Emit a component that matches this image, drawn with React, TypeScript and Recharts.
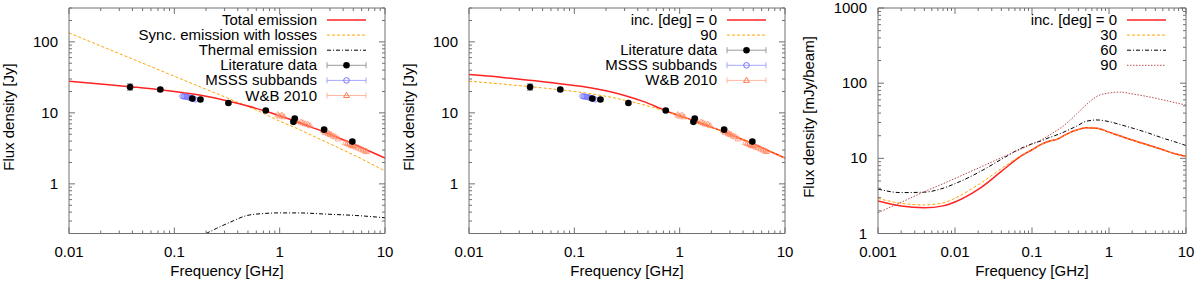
import React from 'react';
import { ComposedChart, Line, Scatter, XAxis, YAxis, ErrorBar } from 'recharts';

const FONT = '"Liberation Sans", Arial, Helvetica, sans-serif';
const AXIS = '#707070';
const RED = '#ff2222';
const ORANGE = '#ffa500';
const BLACK = '#000000';
const BROWN = '#b84a4a';
const BLUE = '#6f6fff';
const SALMON = '#ff7a50';

const W = 400;
const H = 282;
const TOP = 8;
const BOTTOM = 48.5;

// ---- observed data (same in panels 1 and 2) ----
const litFreq = [0.038, 0.0736, 0.148, 0.177, 0.326, 0.738, 1.35, 1.39, 2.64, 4.9];
const litFlux = [23.2, 21.3, 15.9, 15.4, 13.8, 10.8, 7.47, 8.3, 5.8, 3.94];
const litErr = [2.5, 1.2, 0.8, 0.7, 0.6, 0.5, 0.4, 0.4, 0.3, 0.2];

const msssFreq = [0.119, 0.123, 0.127, 0.131, 0.135, 0.139, 0.143, 0.152, 0.158];
const msssFlux = [17.2, 17.0, 16.9, 16.8, 16.6, 16.4, 16.2, 15.8, 15.4];
const msssErr = [0.5, 0.5, 0.5, 0.5, 0.5, 0.5, 0.5, 0.5, 0.5];

const wbFreq = [0.96, 1.0, 1.05, 1.1, 1.4, 1.42, 1.45, 1.6, 1.67, 1.75, 1.85, 1.95, 2.6, 2.7, 2.8, 2.9, 3.0, 3.1, 3.25, 3.4, 3.6, 4.2, 4.4, 4.6, 4.75, 4.85, 4.95, 5.1, 5.3, 5.6, 5.9, 6.2, 6.5, 6.7];
const wbFlux = [9.4, 9.0, 9.3, 8.8, 7.9, 7.6, 8.0, 7.4, 7.2, 7.0, 6.9, 6.6, 5.6, 5.3, 5.5, 5.1, 5.0, 4.9, 4.7, 4.6, 4.3, 3.8, 3.7, 3.6, 3.5, 3.6, 3.4, 3.5, 3.3, 3.2, 3.1, 3.0, 2.9, 2.85];
const wbErr = [0.4, 0.4, 0.4, 0.4, 0.35, 0.35, 0.35, 0.3, 0.3, 0.3, 0.3, 0.3, 0.25, 0.25, 0.25, 0.25, 0.25, 0.25, 0.2, 0.2, 0.2, 0.2, 0.2, 0.2, 0.2, 0.2, 0.2, 0.2, 0.2, 0.15, 0.15, 0.15, 0.15, 0.15];

// ---- panel 1 model curves ----
const totFreq = [0.01, 0.02, 0.04, 0.07, 0.1, 0.15, 0.2, 0.3, 0.5, 0.7, 1, 1.4, 2, 2.8, 4, 6, 8, 10];
const totFlux = [28, 25.6, 23.2, 21.3, 20.0, 18.4, 17.1, 15.1, 12.5, 10.8, 9.1, 7.7, 6.3, 5.2, 4.18, 3.24, 2.68, 2.3];

const syncFreq = [0.01, 0.02, 0.04, 0.1, 0.2, 0.4, 0.65, 1, 1.35, 2, 2.8, 4, 5.8, 8, 10];
const syncFlux = [134, 87.5, 57.5, 32.8, 21.5, 14.1, 10.4, 7.65, 6.35, 4.85, 3.85, 3.0, 2.3, 1.8, 1.52];

const thermFreq = [0.2, 0.25, 0.338, 0.488, 0.7, 1.0, 1.45, 3.0, 5.4, 10];
const thermFlux = [0.2, 0.235, 0.288, 0.358, 0.382, 0.39, 0.39, 0.373, 0.358, 0.333];

// ---- panel 2 model curves ----
const inc0Freq = [0.01, 0.02, 0.04, 0.07, 0.1, 0.15, 0.2, 0.3, 0.45, 0.65, 0.8, 1, 1.4, 2, 2.8, 4, 6, 8, 10];
const inc0Flux = [34.6, 31.8, 28.5, 26.0, 24.3, 22.3, 20.5, 17.6, 14.5, 11.6, 10.2, 9.1, 7.7, 6.3, 5.2, 4.18, 3.24, 2.68, 2.3];

// ---- panel 3 model curves ----
const beamFreq = [0.001, 0.002, 0.004, 0.007, 0.01, 0.02, 0.04, 0.07, 0.1, 0.13, 0.17, 0.21, 0.25, 0.31, 0.38, 0.5, 0.7, 1, 1.4, 2, 3, 5, 7, 10];
const beam0 = [2.7, 2.32, 2.2, 2.33, 2.62, 3.85, 6.7, 10.5, 13.0, 15.2, 17.0, 17.9, 19.6, 22.0, 23.8, 25.6, 25.2, 22.3, 19.8, 17.5, 15.4, 13.0, 11.6, 10.6];
const beam30 = [2.93, 2.52, 2.4, 2.55, 2.95, 4.45, 7.3, 10.7, 13.1, 15.2, 16.9, 17.8, 19.5, 21.9, 23.7, 25.5, 25.1, 22.2, 19.8, 17.5, 15.3, 13.0, 11.6, 10.6];
const beam60 = [3.9, 3.5, 3.55, 4.0, 4.6, 6.45, 9.7, 13.4, 15.6, 17.0, 19.0, 20.5, 22.0, 24.3, 26.8, 31.0, 32.4, 30.8, 28.1, 25.3, 22.3, 18.6, 16.7, 14.8];
const beam90 = [1.89, 2.6, 3.6, 4.6, 5.4, 7.4, 10.2, 13.1, 15.5, 17.5, 20.5, 23.5, 26.5, 32.0, 39.0, 51.0, 67.0, 74.0, 76.0, 72.0, 67.0, 60.0, 55.5, 51.0];

// ---- axes ----
const fluxDomain: [number, number] = [0.2, 300];
const beamDomain: [number, number] = [1, 1000];
const freqDomain: [number, number] = [0.01, 10];
const beamFreqDomain: [number, number] = [0.001, 10];

type Pt = { f: number; s: number; e?: number };
const zip = (f: number[], s: number[], e?: number[]): Pt[] =>
  f.map((v, i) => ({ f: v, s: s[i], e: e ? e[i] : undefined }));

function logTicks([lo, hi]: [number, number]) {
  const out: number[] = [];
  for (let k = Math.floor(Math.log10(lo)); k <= Math.ceil(Math.log10(hi)); k++) {
    for (let m = 1; m <= 9; m++) {
      const v = Number((m * Math.pow(10, k)).toPrecision(6));
      if (v >= lo * 0.999 && v <= hi * 1.001) out.push(v);
    }
  }
  return out;
}

const isDecade = (v: number) => Math.abs(Math.log10(v) - Math.round(Math.log10(v))) < 1e-6;

function makeTick(side: 'bottom' | 'top' | 'left' | 'right') {
  return (p: any) => {
    const { x, y, payload } = p;
    const v = payload.value as number;
    const major = isDecade(v);
    const len = major ? 6 : 3;
    let tl: React.ReactNode = null;
    let label: React.ReactNode = null;
    if (side === 'bottom') {
      tl = <line x1={x} x2={x} y1={y} y2={y - len} stroke={AXIS} />;
      if (major)
        label = (
          <text x={x} y={y + 23} textAnchor="middle" fontSize={15} fontFamily={FONT} fill="#000">
            {String(v)}
          </text>
        );
    } else if (side === 'top') {
      tl = <line x1={x} x2={x} y1={y} y2={y + len} stroke={AXIS} />;
    } else if (side === 'left') {
      tl = <line x1={x} x2={x + len} y1={y} y2={y} stroke={AXIS} />;
      if (major)
        label = (
          <text x={x - 11} y={y + 5} textAnchor="end" fontSize={15} fontFamily={FONT} fill="#000">
            {String(v)}
          </text>
        );
    } else {
      tl = <line x1={x} x2={x - len} y1={y} y2={y} stroke={AXIS} />;
    }
    return (
      <g>
        {tl}
        {label}
      </g>
    );
  };
}

type LegendItem = {
  label: string;
  color: string;
  dash?: string;
  width?: number;
  bar?: string;
  marker?: 'dot' | 'circle' | 'tri';
};

function dot(p: any) {
  return <circle cx={p.cx} cy={p.cy} r={3.3} fill={BLACK} />;
}
function ring(p: any) {
  return <circle cx={p.cx} cy={p.cy} r={2.6} fill="none" stroke={BLUE} strokeWidth={0.8} />;
}
function tri(p: any) {
  const { cx, cy } = p;
  return (
    <path
      d={`M${cx},${cy - 3.2}L${cx + 3},${cy + 2}L${cx - 3},${cy + 2}Z`}
      fill="none"
      stroke={SALMON}
      strokeWidth={0.8}
      opacity={0.8}
    />
  );
}

function Marker({ kind, x, y }: { kind: string; x: number; y: number }) {
  if (kind === 'dot') return <circle cx={x} cy={y} r={3.3} fill={BLACK} />;
  if (kind === 'circle') return <circle cx={x} cy={y} r={2.8} fill="none" stroke={BLUE} />;
  return <path d={`M${x},${y - 3.2}L${x + 3},${y + 2}L${x - 3},${y + 2}Z`} fill="none" stroke={SALMON} />;
}

function Panel(props: {
  plotLeft: number;
  plotRight: number;
  xDomain: [number, number];
  yDomain: [number, number];
  yTitle: string;
  legend: LegendItem[];
  children: React.ReactNode;
}) {
  const { plotLeft, plotRight, xDomain, yDomain, yTitle, legend } = props;
  const xTicks = logTicks(xDomain);
  const yTicks = logTicks(yDomain);
  const common = {
    type: 'number' as const,
    scale: 'log' as const,
    allowDataOverflow: true,
    interval: 0 as const,
    tickSize: 0,
    tickMargin: 0,
    tickLine: false,
    axisLine: { stroke: AXIS },
  };
  const lx1 = 327;
  const lx2 = 366;
  return (
    <div style={{ position: 'relative', width: W, height: H }}>
      <ComposedChart width={W} height={H} margin={{ top: 0, right: 0, bottom: 0, left: 0 }}>
        <XAxis {...common} dataKey="f" domain={xDomain} ticks={xTicks} height={BOTTOM} tick={makeTick('bottom')} />
        <XAxis {...common} xAxisId="top" orientation="top" dataKey="f" domain={xDomain} ticks={xTicks} height={TOP} tick={makeTick('top')} />
        <YAxis {...common} domain={yDomain} ticks={yTicks} width={plotLeft} tick={makeTick('left')} />
        <YAxis {...common} yAxisId="right" orientation="right" domain={yDomain} ticks={yTicks} width={W - plotRight} tick={makeTick('right')} />
        {props.children}
      </ComposedChart>
      <svg width={W} height={H} style={{ position: 'absolute', left: 0, top: 0, pointerEvents: 'none' }}>
        <text
          x={(plotLeft + plotRight) / 2}
          y={276}
          textAnchor="middle"
          fontSize={15}
          fontFamily={FONT}
          fill="#000"
        >
          Frequency [GHz]
        </text>
        <text
          transform={`translate(14, 117) rotate(-90)`}
          textAnchor="middle"
          fontSize={15}
          fontFamily={FONT}
          fill="#000"
        >
          {yTitle}
        </text>
        {legend.map((it, i) => {
          const cy = 20 + i * 15.1;
          return (
            <g key={it.label}>
              <text x={317} y={cy + 5} textAnchor="end" fontSize={15} fontFamily={FONT} fill="#000">
                {it.label}
              </text>
              {it.bar ? (
                <g stroke={it.bar} strokeWidth={1}>
                  <line x1={lx1} x2={lx2} y1={cy} y2={cy} />
                  <line x1={lx1} x2={lx1} y1={cy - 3} y2={cy + 3} />
                  <line x1={lx2} x2={lx2} y1={cy - 3} y2={cy + 3} />
                </g>
              ) : (
                <line
                  x1={lx1}
                  x2={lx2}
                  y1={cy}
                  y2={cy}
                  stroke={it.color}
                  strokeWidth={it.width ?? 1}
                  strokeDasharray={it.dash}
                />
              )}
              {it.marker && <Marker kind={it.marker} x={(lx1 + lx2) / 2} y={cy} />}
            </g>
          );
        })}
      </svg>
    </div>
  );
}

const lit = zip(litFreq, litFlux, litErr);
const msss = zip(msssFreq, msssFlux, msssErr);
const wb = zip(wbFreq, wbFlux, wbErr);

const obsLegend: LegendItem[] = [
  { label: 'Literature data', color: BLACK, bar: '#9a9a9a', marker: 'dot' },
  { label: 'MSSS subbands', color: BLUE, bar: '#a8a8ff', marker: 'circle' },
  { label: 'W&B 2010', color: SALMON, bar: '#ffb8a0', marker: 'tri' },
];

function Observations() {
  return (
    <>
      <Scatter data={wb} dataKey="s" shape={tri} isAnimationActive={false}>
        <ErrorBar dataKey="e" direction="y" width={0} stroke="#ffb8a0" strokeWidth={1} />
      </Scatter>
      <Scatter data={msss} dataKey="s" shape={ring} isAnimationActive={false}>
        <ErrorBar dataKey="e" direction="y" width={0} stroke="#b0b0ff" strokeWidth={1} />
      </Scatter>
      <Scatter data={lit} dataKey="s" shape={dot} isAnimationActive={false}>
        <ErrorBar dataKey="e" direction="y" width={3} stroke="#9a9a9a" strokeWidth={1} />
      </Scatter>
    </>
  );
}

export default function App() {
  return (
    <div style={{ position: 'absolute', left: 0, top: 0, width: 1200, height: H, display: 'flex', background: '#fff' }}>
      <Panel
        plotLeft={69}
        plotRight={385}
        xDomain={freqDomain}
        yDomain={fluxDomain}
        yTitle="Flux density [Jy]"
        legend={[
          { label: 'Total emission', color: RED, width: 1.5 },
          { label: 'Sync. emission with losses', color: ORANGE, dash: '3 2' },
          { label: 'Thermal emission', color: BLACK, dash: '4 2 1 2' },
          ...obsLegend,
        ]}
      >
        <Line data={zip(thermFreq, thermFlux)} dataKey="s" type="monotone" stroke={BLACK} strokeWidth={1} strokeDasharray="4 2 1 2" dot={false} activeDot={false} isAnimationActive={false} />
        <Line data={zip(syncFreq, syncFlux)} dataKey="s" type="monotone" stroke={ORANGE} strokeWidth={1} strokeDasharray="3 2" dot={false} activeDot={false} isAnimationActive={false} />
        <Line data={zip(totFreq, totFlux)} dataKey="s" type="monotone" stroke={RED} strokeWidth={1.5} dot={false} activeDot={false} isAnimationActive={false} />
        <Observations />
      </Panel>
      <Panel
        plotLeft={69}
        plotRight={385}
        xDomain={freqDomain}
        yDomain={fluxDomain}
        yTitle="Flux density [Jy]"
        legend={[
          { label: 'inc. [deg] = 0', color: RED, width: 1.5 },
          { label: '90', color: ORANGE, dash: '3 2' },
          ...obsLegend,
        ]}
      >
        <Line data={zip(inc0Freq, inc0Flux)} dataKey="s" type="monotone" stroke={RED} strokeWidth={1.5} dot={false} activeDot={false} isAnimationActive={false} />
        <Line data={zip(totFreq, totFlux)} dataKey="s" type="monotone" stroke={ORANGE} strokeWidth={1} strokeDasharray="3 2" dot={false} activeDot={false} isAnimationActive={false} />
        <Observations />
      </Panel>
      <Panel
        plotLeft={78}
        plotRight={386}
        xDomain={beamFreqDomain}
        yDomain={beamDomain}
        yTitle="Flux density [mJy/beam]"
        legend={[
          { label: 'inc. [deg] = 0', color: RED, width: 1.5 },
          { label: '30', color: ORANGE, dash: '3 2' },
          { label: '60', color: BLACK, dash: '4 2 1 2' },
          { label: '90', color: BROWN, dash: '1.5 1.5' },
        ]}
      >
        <Line data={zip(beamFreq, beam0)} dataKey="s" type="monotone" stroke={RED} strokeWidth={1.5} dot={false} activeDot={false} isAnimationActive={false} />
        <Line data={zip(beamFreq, beam30)} dataKey="s" type="monotone" stroke={ORANGE} strokeWidth={1} strokeDasharray="3 2" dot={false} activeDot={false} isAnimationActive={false} />
        <Line data={zip(beamFreq, beam60)} dataKey="s" type="monotone" stroke={BLACK} strokeWidth={1} strokeDasharray="4 2 1 2" dot={false} activeDot={false} isAnimationActive={false} />
        <Line data={zip(beamFreq, beam90)} dataKey="s" type="monotone" stroke={BROWN} strokeWidth={1} strokeDasharray="1.5 1.5" dot={false} activeDot={false} isAnimationActive={false} />
      </Panel>
    </div>
  );
}
